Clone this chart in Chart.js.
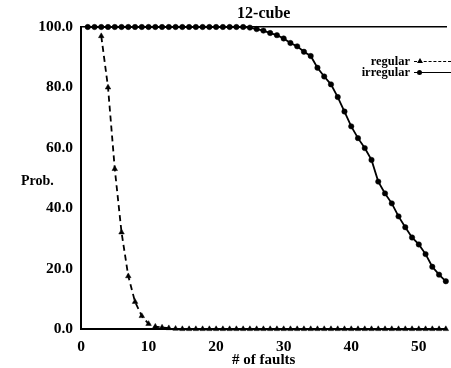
<!DOCTYPE html>
<html>
<head>
<meta charset="utf-8">
<script src="https://cdn.jsdelivr.net/npm/chart.js@4/dist/chart.umd.min.js"></script>
<style>
  html, body { margin: 0; padding: 0; background: #fff; }
  #wrap { position: relative; width: 451px; height: 368px; }
  #chart { display: block; }
  .lbl { position: absolute; font-family: "Liberation Serif", serif; font-weight: bold; color: #000; white-space: nowrap; }
  #ylab { left: 21px; top: 173px; font-size: 14px; }
  #legend { right: 0; top: 56px; font-size: 12.5px; line-height: 11px; text-align: right; }
  .row { display: flex; align-items: center; justify-content: flex-end; height: 11px; }
  .sample { position: relative; display: inline-block; width: 37px; margin-left: 4px; height: 0; border-top: 1.5px solid #000; }
  .sample.dash { border-top: 1.5px dashed #000; }
  .mk { position: absolute; left: 3px; top: -4px; width: 0; height: 0; }
  .mk.tri { border-left: 3px solid transparent; border-right: 3px solid transparent; border-bottom: 5px solid #000; top: -4px; }
  .mk.dot { width: 5px; height: 5px; border-radius: 50%; background: #000; top: -3.5px; }
</style>
</head>
<body>
<div id="wrap">
  <canvas id="chart" width="451" height="368"></canvas>
  <div id="ylab" class="lbl">Prob.</div>
  <div id="legend" class="lbl">
    <div class="row"><span>regular</span><span class="sample dash"><span class="mk tri"></span></span></div>
    <div class="row"><span>irregular</span><span class="sample"><span class="mk dot"></span></span></div>
  </div>
</div>
<script>
// number of faults (x)
const faults = [1, 2, 3, 4, 5, 6, 7, 8, 9, 10, 11, 12, 13, 14, 15, 16, 17, 18, 19, 20,
  21, 22, 23, 24, 25, 26, 27, 28, 29, 30, 31, 32, 33, 34, 35, 36, 37, 38, 39, 40,
  41, 42, 43, 44, 45, 46, 47, 48, 49, 50, 51, 52, 53, 54];

// regular 12-cube
const regular = [null, null, 97, 80, 53, 32, 17.5, 9, 4.3, 1.7, 0.8, 0.5, 0.3, 0.1, 0, 0, 0, 0, 0, 0,
  0, 0, 0, 0, 0, 0, 0, 0, 0, 0, 0, 0, 0, 0, 0, 0, 0, 0, 0, 0,
  0, 0, 0, 0, 0, 0, 0, 0, 0, 0, 0, 0, 0, 0];

// irregular 12-cube
const irregular = [100, 100, 100, 100, 100, 100, 100, 100, 100, 100, 100, 100, 100, 100, 100, 100, 100, 100, 100, 100,
  100, 100, 100, 100, 99.8, 99.3, 98.8, 98.0, 97.3, 96.2, 94.7, 93.6, 91.8, 90.4, 86.5, 83.6, 81.0, 76.8, 72.0, 67.1,
  63.2, 59.9, 56.0, 48.8, 44.9, 41.6, 37.3, 33.7, 30.3, 28.0, 24.8, 20.6, 18.0, 15.8];

const xTicks = [0, 10, 20, 30, 40, 50];
const yTicks = [0, 20, 40, 60, 80, 100];

const serif = '"Liberation Serif", "Times New Roman", serif';

var ctx = document.getElementById('chart').getContext('2d');
var chart = new Chart(ctx, {
    type: 'line',
    data: {
        labels: faults,
        datasets: [{
            label: 'regular',
            data: regular,
            borderColor: '#000',
            backgroundColor: 'transparent',
            pointBackgroundColor: '#000',
            borderWidth: 1.8,
            borderDash: [6, 4],
            pointStyle: 'triangle',
            pointRadius: 3.2,
            pointBorderWidth: 0.5,
            tension: 0,
            spanGaps: false,
            clip: false
        }, {
            label: 'irregular',
            data: irregular,
            borderColor: '#000',
            backgroundColor: 'transparent',
            pointBackgroundColor: '#000',
            borderWidth: 1.8,
            pointStyle: 'circle',
            pointRadius: 2.7,
            pointBorderWidth: 0.5,
            tension: 0,
            clip: false
        }]
    },
    options: {
        responsive: false,
        animation: false,
        layout: { padding: { left: 0, right: 0, top: 0, bottom: 0 } },
        plugins: {
            legend: { display: false },
            tooltip: { enabled: false },
            title: { display: false }
        },
        scales: {
            x: {
                type: 'linear',
                min: 0,
                max: 54.1,
                afterFit: function(s) { s.height = 39; },
                afterBuildTicks: function(s) { s.ticks = xTicks.map(v => ({ value: v })); },
                grid: { display: false, drawTicks: false },
                border: { display: true, color: '#000', width: 2 },
                ticks: {
                    color: '#000',
                    padding: 9,
                    maxRotation: 0,
                    font: { family: serif, size: 15.5, weight: 'bold' },
                    callback: function(v) { return String(v); }
                },
                title: {
                    display: true,
                    text: '# of faults',
                    color: '#000',
                    padding: { top: -6, bottom: 0 },
                    font: { family: serif, size: 15, weight: 'bold', lineHeight: 1 }
                }
            },
            x2: {
                type: 'linear',
                position: 'top',
                min: 0,
                max: 54.1,
                afterFit: function(s) { s.height = 27; },
                grid: { display: false, drawTicks: false },
                border: { display: true, color: '#000', width: 1.5 },
                ticks: { display: false },
                title: {
                    display: true,
                    text: '12-cube',
                    color: '#000',
                    padding: { top: 5, bottom: 4 },
                    font: { family: serif, size: 16, weight: 'bold', lineHeight: 1.1 }
                }
            },
            y: {
                min: 0,
                max: 100,
                afterFit: function(s) { s.width = 81; },
                afterBuildTicks: function(s) { s.ticks = yTicks.map(v => ({ value: v })); },
                grid: { display: false, drawTicks: false },
                border: { display: true, color: '#000', width: 2 },
                ticks: {
                    color: '#000',
                    padding: 8,
                    font: { family: serif, size: 15.5, weight: 'bold' },
                    callback: function(v) { return v.toFixed(1); }
                }
            }
        }
    }
});
</script>
</body>
</html>
